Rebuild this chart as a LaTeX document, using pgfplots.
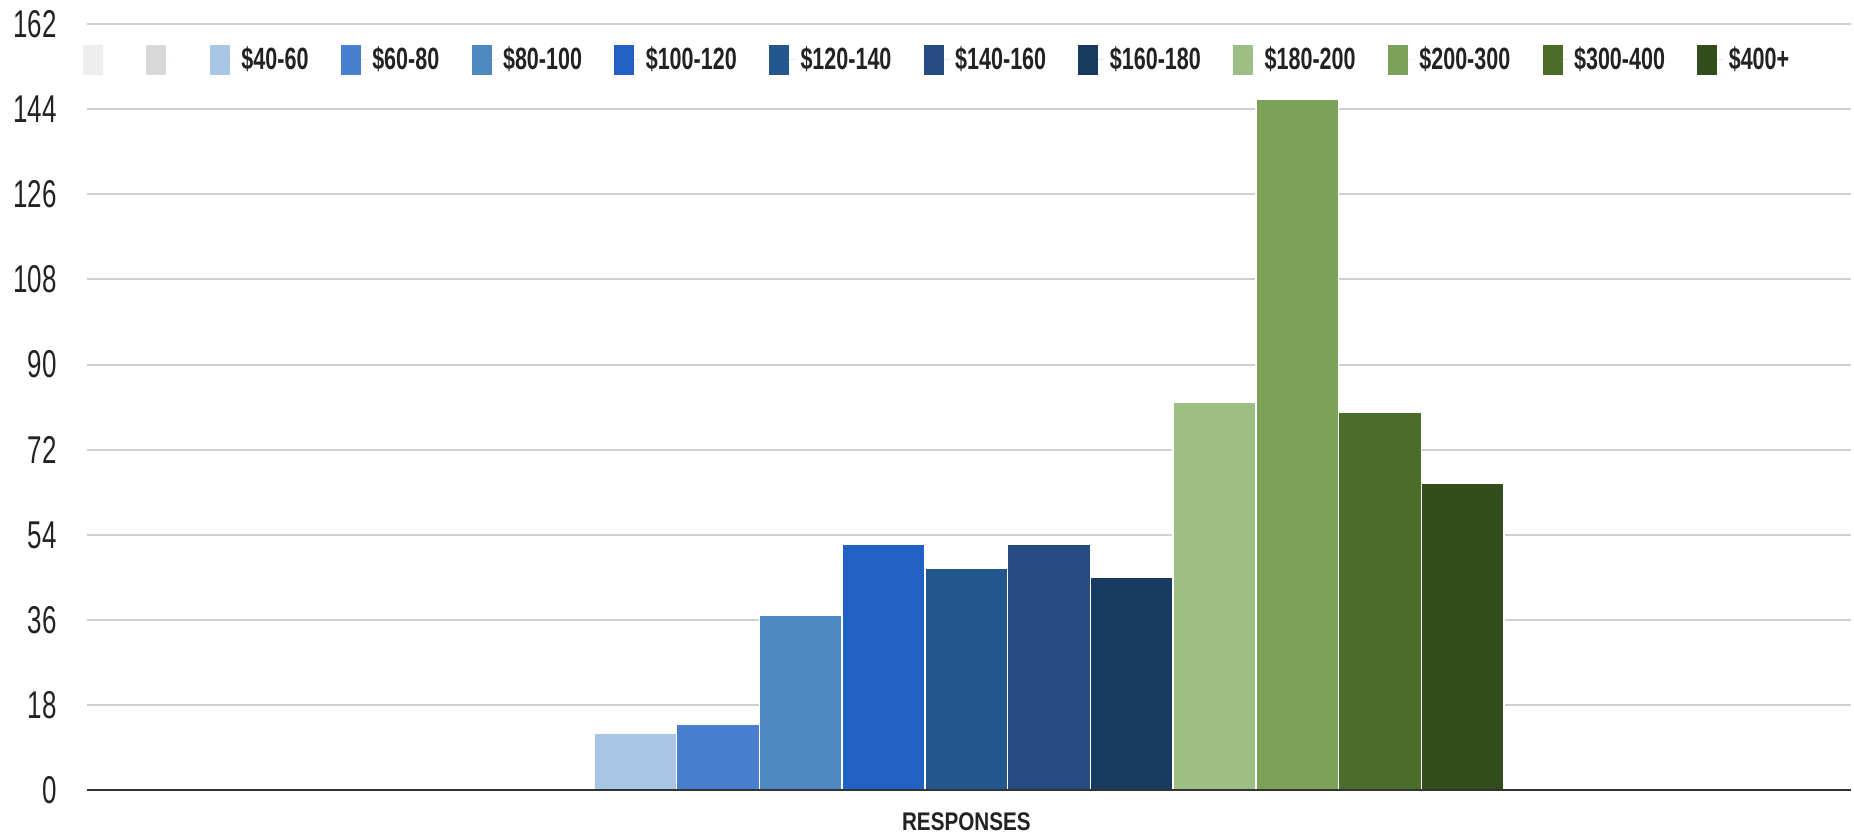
\documentclass[border=0pt]{standalone}
\usepackage{fontspec}
\setmainfont{Liberation Sans}
\usepackage{graphicx}
\usepackage{pgfplots}
\pgfplotsset{compat=1.18}
\definecolor{ca}{HTML}{EEEEEE}
\definecolor{cb}{HTML}{D9D9D9}
\definecolor{c1}{HTML}{A8C6E4}
\definecolor{c2}{HTML}{4A7ECF}
\definecolor{c3}{HTML}{4F88C0}
\definecolor{c4}{HTML}{2261C4}
\definecolor{c5}{HTML}{23578E}
\definecolor{c6}{HTML}{264A82}
\definecolor{c7}{HTML}{183A60}
\definecolor{c8}{HTML}{9DBF83}
\definecolor{c9}{HTML}{7CA158}
\definecolor{c10}{HTML}{4A6E29}
\definecolor{c11}{HTML}{324C1C}
\definecolor{gridc}{HTML}{D0D0D0}
\definecolor{zeroc}{HTML}{333333}
\definecolor{txt}{HTML}{222222}
\newcommand{\nl}[1]{\scalebox{0.70}[1]{#1}}
\begin{document}
\begin{tikzpicture}
\begin{axis}[
 at={(0,0)}, anchor=south west,
 scale only axis, width=705.6pt, height=306.6pt,
 xmin=-0.997, xmax=1.003, ymin=0, ymax=162,
 ytick={0,18,...,162},
 xtick={0}, xticklabels={\scalebox{0.81}[1]{RESPONSES}},
 ybar=0pt, bar width=33.1pt,
 ymajorgrids, grid style={line width=0.8pt, color=gridc},
 axis line style={draw=none},
 major tick length=0pt,
 yticklabel={\scalebox{0.67}[1]{\pgfmathprintnumber[assume math mode=true]{\tick}}},
 yticklabel style={anchor=east, inner sep=0pt, xshift=-11.9pt, font=\fontsize{15.5}{16}\selectfont, text=txt},
 xticklabel style={anchor=center, inner sep=0pt, yshift=-12.4pt, font=\bfseries\fontsize{10.2}{12}\selectfont, text=txt},
 legend columns=-1,
 legend style={at={(0,1)}, anchor=north west, xshift=-2pt, yshift=-8.1pt, draw=none, fill=none, inner sep=0pt,
   font=\bfseries\fontsize{12.3}{13}\selectfont, text=txt,
   nodes={inner xsep=2pt, inner ysep=0pt},
   /tikz/every even column/.append style={column sep=10.9pt}},
 legend image code/.code={\fill[#1,draw=none] (0pt,-6.1pt) rectangle (8pt,6.1pt); \path[draw=none] (0pt,0pt) -- (10.6pt,0pt);},
]
\addplot[fill=ca, draw=none] coordinates {(0,0)}; \addlegendentry{\mbox{}}
\addplot[fill=cb, draw=none] coordinates {(0,0)}; \addlegendentry{\mbox{}}
\addplot[fill=c1, draw=white, line width=0.6pt] coordinates {(0,12)}; \addlegendentry{\nl{\$40-60}}
\addplot[fill=c2, draw=white, line width=0.6pt] coordinates {(0,14)}; \addlegendentry{\nl{\$60-80}}
\addplot[fill=c3, draw=white, line width=0.6pt] coordinates {(0,37)}; \addlegendentry{\nl{\$80-100}}
\addplot[fill=c4, draw=white, line width=0.6pt] coordinates {(0,52)}; \addlegendentry{\nl{\$100-120}}
\addplot[fill=c5, draw=white, line width=0.6pt] coordinates {(0,47)}; \addlegendentry{\nl{\$120-140}}
\addplot[fill=c6, draw=white, line width=0.6pt] coordinates {(0,52)}; \addlegendentry{\nl{\$140-160}}
\addplot[fill=c7, draw=white, line width=0.6pt] coordinates {(0,45)}; \addlegendentry{\nl{\$160-180}}
\addplot[fill=c8, draw=white, line width=0.6pt] coordinates {(0,82)}; \addlegendentry{\nl{\$180-200}}
\addplot[fill=c9, draw=white, line width=0.6pt] coordinates {(0,146)}; \addlegendentry{\nl{\$200-300}}
\addplot[fill=c10, draw=white, line width=0.6pt] coordinates {(0,80)}; \addlegendentry{\nl{\$300-400}}
\addplot[fill=c11, draw=white, line width=0.6pt] coordinates {(0,65)}; \addlegendentry{\nl{\$400+}}
\draw[line width=1.1pt, color=zeroc] (rel axis cs:0,0) -- (rel axis cs:1,0);
\end{axis}
\pgfresetboundingbox
\path[use as bounding box] (-34.8pt,-18.2pt) rectangle (706.8pt,316.2pt);
\end{tikzpicture}
\end{document}
